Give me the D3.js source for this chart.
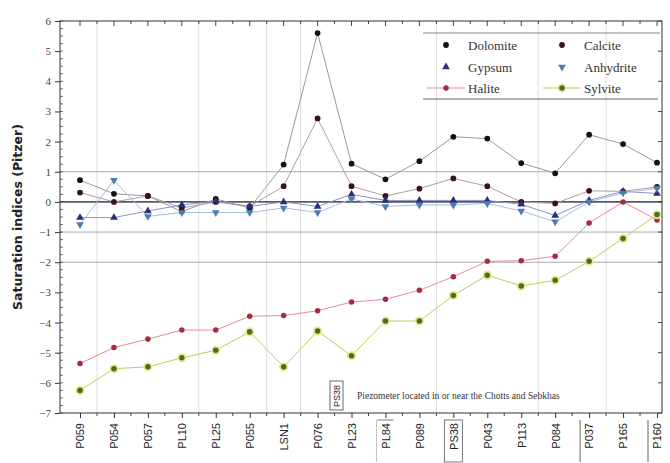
<!DOCTYPE html>
<html>
<head>
<meta charset="utf-8">
<script src="https://cdn.jsdelivr.net/npm/d3@7/dist/d3.min.js"></script>
<style>
  body { margin: 0; background: #fff; }
  svg { display: block; }
</style>
</head>
<body>
<script>
// piezometers (x axis)
var wells = ["P059","P054","P057","PL10","PL25","P055","LSN1","P076","PL23","PL84","P089","PS38","P043","P113","P084","P037","P165","P160"];
// saturation indices
var dolomite  = [0.72, 0.27, 0.2, -0.32, 0.1, -0.2, 1.24, 5.6, 1.27, 0.75, 1.35, 2.16, 2.1, 1.29, 0.95, 2.23, 1.92, 1.3];
var calcite   = [0.31, 0.0, 0.2, -0.2, 0.0, -0.15, 0.52, 2.77, 0.52, 0.2, 0.44, 0.78, 0.52, 0.0, -0.05, 0.37, 0.35, 0.5];
var gypsum    = [-0.52, -0.52, -0.3, -0.1, 0.02, -0.15, 0.0, -0.15, 0.25, 0.05, 0.05, 0.05, 0.05, -0.08, -0.45, 0.05, 0.35, 0.28];
var anhydrite = [-0.75, 0.72, -0.48, -0.35, -0.35, -0.35, -0.2, -0.35, 0.1, -0.15, -0.1, -0.1, -0.05, -0.3, -0.66, 0.0, 0.3, 0.45];
var halite    = [-5.36, -4.83, -4.55, -4.25, -4.25, -3.79, -3.77, -3.61, -3.32, -3.23, -2.93, -2.48, -1.97, -1.95, -1.8, -0.7, 0.0, -0.6];
var sylvite   = [-6.25, -5.53, -5.47, -5.17, -4.92, -4.31, -5.47, -4.28, -5.1, -3.95, -3.95, -3.1, -2.43, -2.79, -2.6, -1.97, -1.21, -0.42];
var yTicks = [6,5,4,3,2,1,0,-1,-2,-3,-4,-5,-6,-7];
var boxedWells = ["PL84","PS38","P037","P160"];

var W = 670, H = 463;
var L = 60, R = 662, T = 21, B = 413;

var svg = d3.select("body").append("svg").attr("width", W).attr("height", H);

var x = d3.scalePoint().domain(wells).range([80, 657]);
var y = d3.scaleLinear().domain([-7, 6]).range([B, T]);

// light vertical grid between some wells
var gridAfter = [0, 3, 5, 6, 10, 13, 15];
svg.selectAll(".vgrid").data(gridAfter).enter().append("line")
  .attr("x1", function(i){ return (x(wells[i]) + x(wells[i+1])) / 2; })
  .attr("x2", function(i){ return (x(wells[i]) + x(wells[i+1])) / 2; })
  .attr("y1", T).attr("y2", B)
  .attr("stroke", "#dcdcdc").attr("stroke-width", 1);

// reference lines
[1, -1, -2].forEach(function(v){
  svg.append("line").attr("x1", L).attr("x2", R).attr("y1", y(v)).attr("y2", y(v))
    .attr("stroke", "#aaa").attr("stroke-width", 1);
});
svg.append("line").attr("x1", L).attr("x2", R).attr("y1", y(0)).attr("y2", y(0))
  .attr("stroke", "#555a66").attr("stroke-width", 1.6);

// series
var series = [
  {name:"Dolomite",  v:dolomite,  line:"#9a9a9a", fill:"#111",    sym:d3.symbolCircle,   size:26},
  {name:"Calcite",   v:calcite,   line:"#b0a0a0", fill:"#3a1414", sym:d3.symbolCircle,   size:26},
  {name:"Gypsum",    v:gypsum,    line:"#8a93c8", fill:"#28307a", sym:d3.symbolTriangle, size:26},
  {name:"Anhydrite", v:anhydrite, line:"#a8c0dc", fill:"#4d7fae", sym:d3.symbolTriangle, size:26, rot:180},
  {name:"Halite",    v:halite,    line:"#e88a9a", fill:"#a82a40", sym:d3.symbolCircle,   size:24},
  {name:"Sylvite",   v:sylvite,   line:"#bccf55", fill:"#4f6a25", sym:d3.symbolCircle,   size:24, halo:"#e2ec8a"}
];

var line = d3.line().x(function(d, i){ return x(wells[i]); }).y(function(d){ return y(d); });

series.forEach(function(s){
  svg.append("path").attr("d", line(s.v)).attr("fill", "none")
    .attr("stroke", s.line).attr("stroke-width", 1);
});
series.forEach(function(s){
  var g = svg.append("g");
  if (s.halo) {
    g.selectAll(".halo").data(s.v).enter().append("circle")
      .attr("cx", function(d, i){ return x(wells[i]); }).attr("cy", function(d){ return y(d); })
      .attr("r", 4.6).attr("fill", s.halo);
  }
  g.selectAll("path").data(s.v).enter().append("path")
    .attr("d", d3.symbol().type(s.sym).size(s.size))
    .attr("transform", function(d, i){
      return "translate(" + x(wells[i]) + "," + y(d) + ")" + (s.rot ? " rotate(" + s.rot + ")" : "");
    })
    .attr("fill", s.fill);
});

// frame
svg.append("rect").attr("x", L).attr("y", T).attr("width", R - L).attr("height", B - T)
  .attr("fill", "none").attr("stroke", "#333").attr("stroke-width", 1);

// y axis
var yAxis = d3.axisLeft(y).tickValues(yTicks).tickSize(5).tickFormat(d3.format("d"));
var gy = svg.append("g").attr("transform", "translate(" + L + ",0)").call(yAxis);
gy.select(".domain").remove();
gy.selectAll("line").attr("stroke", "#333");
gy.selectAll("text").attr("font-family", "Liberation Serif, serif").attr("font-size", 11)
  .attr("fill", "#444").attr("x", -9);
var minorY = d3.range(-7, 6.01, 0.25);
svg.selectAll(".ymin").data(minorY).enter().append("line")
  .attr("x1", L).attr("x2", L + 3).attr("y1", function(d){ return y(d); }).attr("y2", function(d){ return y(d); })
  .attr("stroke", "#444").attr("stroke-width", 0.8);
svg.selectAll(".ymaj").data(yTicks).enter().append("line")
  .attr("x1", R).attr("x2", R - 4).attr("y1", function(d){ return y(d); }).attr("y2", function(d){ return y(d); })
  .attr("stroke", "#444");

// x axis
var xAxis = d3.axisBottom(x).tickSize(5);
var gx = svg.append("g").attr("transform", "translate(0," + B + ")").call(xAxis);
gx.select(".domain").remove();
gx.selectAll("line").attr("stroke", "#333");
gx.selectAll("text")
  .attr("font-family", "Liberation Sans Narrow, Liberation Sans, sans-serif").attr("font-size", 11).attr("fill", "#222")
  .attr("transform", "rotate(-90)").attr("text-anchor", "end")
  .attr("x", -10).attr("y", 0).attr("dy", "0.35em");
var mids = d3.range(wells.length - 1).map(function(i){ return (x(wells[i]) + x(wells[i+1])) / 2; });
svg.selectAll(".xmin").data(mids).enter().append("line")
  .attr("x1", function(d){ return d; }).attr("x2", function(d){ return d; })
  .attr("y1", B).attr("y2", B + 3).attr("stroke", "#444");
// top ticks
svg.selectAll(".xtop").data(wells.map(function(w){ return x(w); }).concat(mids)).enter().append("line")
  .attr("x1", function(d){ return d; }).attr("x2", function(d){ return d; })
  .attr("y1", T).attr("y2", function(d, i){ return i < wells.length ? T + 5 : T + 3; })
  .attr("stroke", "#444");

// marks around piezometers in or near the Chotts and Sebkhas
boxedWells.forEach(function(w){
  var cx = x(w);
  var top = B + 7, bot = B + 49;
  if (w === "PS38") {
    svg.append("rect").attr("x", cx - 9).attr("y", top).attr("width", 18).attr("height", bot - top)
      .attr("fill", "none").attr("stroke", "#555").attr("stroke-width", 0.8);
  } else if (w === "PL84") {
    svg.append("line").attr("x1", cx - 8).attr("x2", cx + 8).attr("y1", top).attr("y2", top)
      .attr("stroke", "#555").attr("stroke-width", 0.8);
    svg.append("line").attr("x1", cx - 9).attr("x2", cx - 9).attr("y1", top).attr("y2", bot)
      .attr("stroke", "#999").attr("stroke-width", 0.6);
  } else {
    svg.append("line").attr("x1", cx - 9).attr("x2", cx - 9).attr("y1", top).attr("y2", bot)
      .attr("stroke", "#555").attr("stroke-width", 0.9);
  }
});

// inline note
var note = svg.append("g").attr("transform", "translate(337,407)");
note.append("rect").attr("x", -7).attr("y", -26).attr("width", 13).attr("height", 29)
  .attr("fill", "#fff").attr("stroke", "#444").attr("stroke-width", 0.8);
note.append("text").attr("transform", "rotate(-90)").attr("x", 0).attr("y", 3)
  .attr("font-family", "Liberation Sans, sans-serif").attr("font-size", 9).attr("fill", "#222")
  .text("PS38");
svg.append("text").attr("x", 357).attr("y", 399)
  .attr("font-family", "Liberation Serif, serif").attr("font-size", 9.5).attr("fill", "#333")
  .text("Piezometer located in or near the Chotts and Sebkhas");

// y title
svg.append("text").attr("transform", "translate(22," + y(-0.5) + ") rotate(-90)")
  .attr("text-anchor", "middle").attr("font-family", "DejaVu Sans, sans-serif")
  .attr("font-weight", "bold").attr("font-size", 12.5).attr("fill", "#222")
  .text("Saturation indices (Pitzer)");

// legend
var lg = svg.append("g");
lg.append("line").attr("x1", 423).attr("x2", 660).attr("y1", 33).attr("y2", 33).attr("stroke", "#888");
lg.append("line").attr("x1", 423).attr("x2", 658).attr("y1", 99).attr("y2", 99).attr("stroke", "#666");
var cols = [446, 562], rows = [45, 67, 88];
series.forEach(function(s, i){
  var cx = cols[i % 2], cy = rows[Math.floor(i / 2)];
  if (i >= 4) {
    lg.append("line").attr("x1", cx - 19).attr("x2", cx + 19).attr("y1", cy).attr("y2", cy)
      .attr("stroke", s.line).attr("stroke-width", 1.2);
    if (s.halo) lg.append("circle").attr("cx", cx).attr("cy", cy).attr("r", 4.2).attr("fill", s.halo);
  }
  lg.append("path").attr("d", d3.symbol().type(s.sym).size(s.size))
    .attr("transform", "translate(" + cx + "," + cy + ")" + (s.rot ? " rotate(" + s.rot + ")" : ""))
    .attr("fill", s.fill);
  lg.append("text").attr("x", cx + 22).attr("y", cy).attr("dy", "0.35em")
    .attr("font-family", "Liberation Serif, serif").attr("font-size", 13).attr("fill", "#333")
    .text(s.name);
});
</script>
</body>
</html>
